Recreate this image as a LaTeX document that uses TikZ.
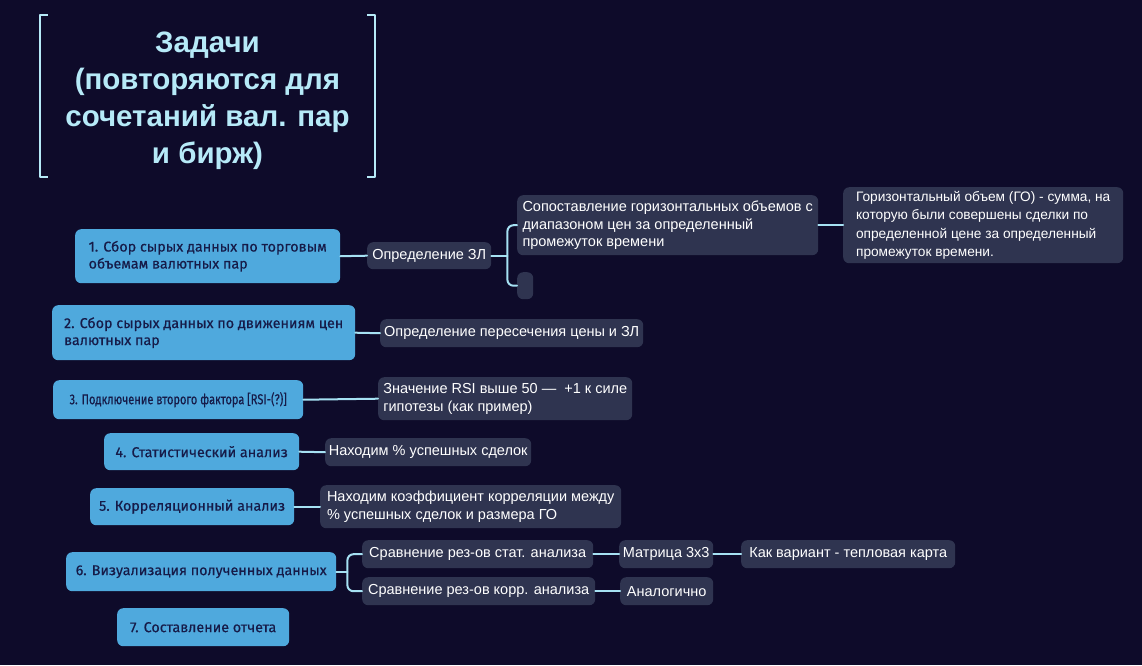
\documentclass[tikz,border=0pt]{standalone}
\usepackage{fontspec}
\setmainfont{Liberation Sans}
\newfontfamily\bluefont[FakeBold=0.4]{Fira Sans}
\newfontfamily\bluenarrow[FakeBold=0.4,FakeStretch=0.77]{Fira Sans}
\definecolor{bgnavy}{HTML}{0E0B2A}
\definecolor{taskblue}{HTML}{4FA9DD}
\definecolor{taskink}{HTML}{161B48}
\definecolor{noteslate}{HTML}{2F3450}
\definecolor{linkcyan}{HTML}{A6E1F3}
\definecolor{titlecyan}{HTML}{B6EAF8}
\begin{document}
\begin{tikzpicture}[x=1pt,y=-1pt, line join=round, line cap=round,
	task/.style={fill=taskblue, text=taskink, rounded corners=6pt, align=left, inner sep=0pt, anchor=north west, font=\bluefont\fontsize{14.3}{17}\selectfont},
	note/.style={fill=noteslate, text=white, rounded corners=6pt, align=left, inner sep=0pt, anchor=north west, font=\fontsize{14.5}{17.5}\selectfont},
	sz/.style 2 args={minimum width=#1pt, minimum height=#2pt},
	link/.style={draw=linkcyan, line width=2pt},
	bracket/.style={draw=titlecyan, line width=2.5pt, line cap=butt}]
	\fill[bgnavy] (0,0) rectangle (1142,665);
	\useasboundingbox (0,0) rectangle (1142,665);
	% title
	\node[text=titlecyan, align=center, minimum width=335pt, minimum height=162pt, font=\bfseries\fontsize{29.5}{37}\selectfont] (title) at (207.5,101) {Задачи\\(повторяются для\\сочетаний вал. пар\\и бирж)};
	\draw[bracket] ([shift={(8pt,5pt)}]title.north west) -- ([yshift=5pt]title.north west) -- ([yshift=5pt]title.south west) -- ([shift={(8pt,5pt)}]title.south west);
	\draw[bracket] ([shift={(-8pt,5pt)}]title.north east) -- ([yshift=5pt]title.north east) -- ([yshift=5pt]title.south east) -- ([shift={(-8pt,5pt)}]title.south east);
	% tasks
	\node[task, sz={265}{54}] (t1) at (75,229) {1. Сбор сырых данных по торговым\\объемам валютных пар};
	\node[task, sz={303}{55}] (t2) at (52,305) {2. Сбор сырых данных по движениям цен\\валютных пар};
	\node[task, sz={250}{39}, font=\bluenarrow\fontsize{14.3}{17}\selectfont] (t3) at (53,380) {3. Подключение второго фактора [RSI-(?)]};
	\node[task, sz={195}{37}] (t4) at (104,433) {4. Статистический анализ};
	\node[task, sz={204}{37}] (t5) at (90,488) {5. Корреляционный анализ};
	\node[task, sz={270}{39}] (t6) at (66,552) {6. Визуализация полученных данных};
	\node[task, sz={172}{38}] (t7) at (117,608) {7. Составление отчета};
	% notes
	\node[note, sz={124}{27}] (zl) at (367,242) {Определение ЗЛ};
	\node[note, sz={301}{60}] (cmp) at (517,195) {Сопоставление горизонтальных объемов с\\диапазоном цен за определенный\\промежуток времени};
	\node[note, sz={16}{27}] (emp) at (517,272) {};
	\node[note, sz={280}{76}, font=\fontsize{13.7}{18.5}\selectfont] (go) at (843,187) {Горизонтальный объем (ГО) - сумма, на\\которую были совершены сделки по\\определенной цене за определенный\\промежуток времени.};
	\node[note, sz={263}{28}] (cross) at (380,319) {Определение пересечения цены и ЗЛ};
	\node[note, sz={254}{43}] (rsi) at (378,377) {Значение RSI выше 50 — \ +1 к силе\\гипотезы (как пример)};
	\node[note, sz={206}{28}] (pct) at (325,438) {Находим \% успешных сделок};
	\node[note, sz={301}{43}] (corr) at (320,485) {Находим коэффициент корреляции между\\\% успешных сделок и размера ГО};
	\node[note, sz={231}{28}] (cmpstat) at (362,540) {Сравнение рез-ов стат. анализа};
	\node[note, sz={94}{28}] (mtx) at (619,540) {Матрица 3х3};
	\node[note, sz={214}{28}] (heat) at (741,540) {Как вариант - тепловая карта};
	\node[note, sz={233}{28}] (cmpcorr) at (362,577) {Сравнение рез-ов корр. анализа};
	\node[note, sz={93}{28}] (same) at (620,577) {Аналогично};
	% links
	\draw[link] (t1.east) -- (zl.west);
	\draw[link] (zl.east) -- ++(16,0) coordinate (zlfork);
	\draw[link, rounded corners=6pt] (cmp.west) -| (zlfork) |- (emp.west);
	\draw[link] (cmp.east) -- (go.west);
	\draw[link] (t2.east) -- (cross.west);
	\draw[link] (t3.east) -- (rsi.west);
	\draw[link] (t4.east) -- (pct.west);
	\draw[link] (t5.east) -- (corr.west);
	\draw[link] (t6.east) -- ++(11,0) coordinate (t6fork);
	\draw[link, rounded corners=6pt] (cmpstat.west) -| (t6fork) |- (cmpcorr.west);
	\draw[link] (cmpstat.east) -- (mtx.west);
	\draw[link] (mtx.east) -- (heat.west);
	\draw[link] (cmpcorr.east) -- (same.west);
\end{tikzpicture}
\end{document}
